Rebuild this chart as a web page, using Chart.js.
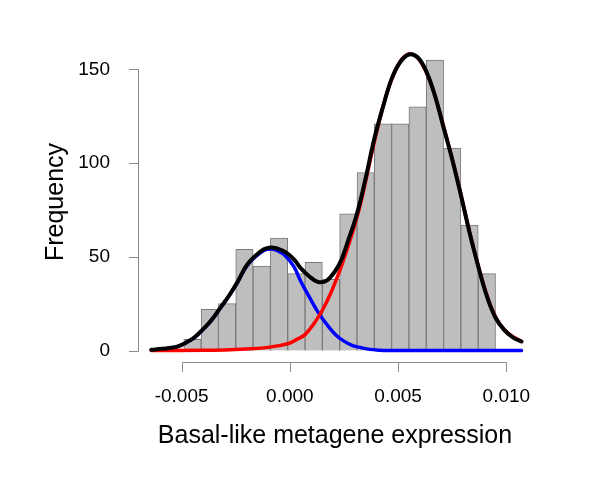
<!DOCTYPE html>
<html>
<head>
<meta charset="utf-8">
<script src="https://cdn.jsdelivr.net/npm/chart.js@4.4.0/dist/chart.umd.min.js"></script>
<style>
  html, body { margin: 0; padding: 0; background: #ffffff; }
  #wrap { width: 600px; height: 496px; }
</style>
</head>
<body>
<div id="wrap"><canvas id="chartHist" width="600" height="496"></canvas></div>
<script>
// histogram bins (centres) and counts
const binCenters = [-0.0045, -0.0037, -0.0029, -0.0021, -0.0013, -0.0005, 0.0003, 0.0011, 0.0019,
                    0.0027, 0.0035, 0.0043, 0.0051, 0.0059, 0.0067, 0.0075, 0.0083, 0.0091];
const counts = [6, 22, 25, 54, 45, 60, 41, 47, 38, 73, 95, 121, 121, 130, 155, 108, 67, 41];

// fitted mixture (black)
const mixX = [-0.0064, -0.0059, -0.0055, -0.0052, -0.0048, -0.0044, -0.0040, -0.0036, -0.0032, -0.0028,
              -0.0024, -0.0020, -0.0016, -0.0012, -0.0009, -0.0006, -0.0002, 0.0002, 0.0005, 0.0009,
              0.0013, 0.0017, 0.0021, 0.0024, 0.0027, 0.0031, 0.0035, 0.0039, 0.0043, 0.0047,
              0.0051, 0.0055, 0.0059, 0.0063, 0.0067, 0.0071, 0.0075, 0.0079, 0.0083, 0.0087,
              0.0091, 0.0095, 0.0099, 0.0103, 0.0107];
const mixY = [0.4, 0.9, 1.5, 2.1, 4.2, 7.1, 11.5, 16.5, 23, 29.5,
              37, 45.5, 50.5, 54, 55, 54.5, 52.5, 48.5, 44, 39.5,
              36.6, 37.3, 42.5, 49, 59, 73, 92, 113, 130, 145,
              154, 158, 156.5, 149, 136, 119, 102, 83, 63, 45,
              29, 17.5, 11, 7, 4.8];

// low component (blue)
const lowX = [-0.0064, -0.0059, -0.0055, -0.0052, -0.0048, -0.0044, -0.0040, -0.0036, -0.0032, -0.0028,
              -0.0024, -0.0020, -0.0016, -0.0012, -0.0009, -0.0006, -0.0002, 0.0002, 0.0005, 0.0009,
              0.0013, 0.0017, 0.0021, 0.0025, 0.0029, 0.0033, 0.0037, 0.0041, 0.0045, 0.0107];
const lowY = [0.3, 0.8, 1.4, 2.0, 4.1, 7.0, 11.4, 16.4, 22.8, 29.3,
              36.8, 45, 50, 53.4, 54.2, 53.4, 50.5, 44.5, 37, 28.5,
              20.5, 14, 8.6, 5, 2.6, 1.5, 0.6, 0.2, 0, 0];

// high component (red)
const highX = [-0.0064, -0.0040, -0.0030, -0.0020, -0.0012, -0.0005, 0.0000, 0.0003, 0.0007, 0.0011,
               0.0015, 0.0019, 0.0023, 0.0026, 0.0030, 0.0033, 0.0037, 0.0041, 0.0045, 0.0049,
               0.0053, 0.0057, 0.0061, 0.0065, 0.0069, 0.0073, 0.0077, 0.0081, 0.0085, 0.0089,
               0.0093, 0.0097, 0.0101, 0.0107];
const highY = [0, 0.1, 0.3, 0.8, 1.4, 2.6, 4, 5.8, 8.5, 14.2,
               21.5, 31, 42.5, 52.5, 67, 80, 101, 121, 138, 150,
               157, 158, 153, 143, 128, 111, 93, 73, 54, 37,
               23, 14, 9, 4.8];

const xTicks = [-0.005, 0.000, 0.005, 0.010];
const xTickLabels = ['-0.005', '0.000', '0.005', '0.010'];
const yTicks = [0, 50, 100, 150];

const xTitle = 'Basal-like metagene expression';
const yTitle = 'Frequency';

const pts = (xs, ys) => xs.map((x, i) => ({ x: x, y: ys[i] }));

const FONT = '"Liberation Sans", Arial, sans-serif';

// R style axes: lines only span first to last tick
const rAxes = {
    id: 'rAxes',
    afterDraw(chart) {
        const ctx = chart.ctx;
        const sx = chart.scales.x;
        const sy = chart.scales.y;
        ctx.save();
        ctx.strokeStyle = '#8a8a8a';
        ctx.lineWidth = 1;

        // y axis
        const ax = 138.5;
        ctx.beginPath();
        ctx.moveTo(ax, Math.round(sy.getPixelForValue(yTicks[0])) + 0.5);
        ctx.lineTo(ax, Math.round(sy.getPixelForValue(yTicks[yTicks.length - 1])) + 0.5);
        yTicks.forEach(t => {
            const py = Math.round(sy.getPixelForValue(t)) + 0.5;
            ctx.moveTo(ax, py);
            ctx.lineTo(129, py);
        });
        ctx.stroke();

        // x axis
        const ay = 362.5;
        ctx.beginPath();
        ctx.moveTo(Math.round(sx.getPixelForValue(xTicks[0])) + 0.5, ay);
        ctx.lineTo(Math.round(sx.getPixelForValue(xTicks[xTicks.length - 1])) + 0.5, ay);
        xTicks.forEach(t => {
            const px = Math.round(sx.getPixelForValue(t)) + 0.5;
            ctx.moveTo(px, ay);
            ctx.lineTo(px, 372);
        });
        ctx.stroke();

        // tick labels
        ctx.fillStyle = '#000000';
        ctx.font = '19px ' + FONT;
        ctx.textAlign = 'right';
        ctx.textBaseline = 'middle';
        yTicks.forEach(t => {
            ctx.fillText(String(t), 110, sy.getPixelForValue(t));
        });
        ctx.textAlign = 'center';
        ctx.textBaseline = 'alphabetic';
        xTicks.forEach((t, i) => {
            ctx.fillText(xTickLabels[i], sx.getPixelForValue(t), 402);
        });

        // titles
        ctx.font = '25px ' + FONT;
        ctx.fillText(xTitle, 335, 443);
        ctx.translate(63, 202);
        ctx.rotate(-Math.PI / 2);
        ctx.fillText(yTitle, 0, 0);
        ctx.restore();
    }
};

const curveStyle = {
    type: 'line',
    pointRadius: 0,
    tension: 0.4,
    fill: false,
    borderCapStyle: 'round',
    borderJoinStyle: 'round'
};

new Chart(document.getElementById('chartHist'), {
    type: 'bar',
    data: {
        datasets: [
            Object.assign({}, curveStyle, {
                data: pts(mixX, mixY),
                borderColor: '#000000',
                borderWidth: 4,
                order: 0
            }),
            Object.assign({}, curveStyle, {
                data: pts(highX, highY),
                borderColor: '#ff0000',
                borderWidth: 3.5,
                order: 1
            }),
            Object.assign({}, curveStyle, {
                data: pts(lowX, lowY),
                borderColor: '#0000ff',
                borderWidth: 3.5,
                order: 2
            }),
            {
                type: 'bar',
                data: pts(binCenters, counts),
                backgroundColor: '#bebebe',
                borderColor: '#7a7a7a',
                borderWidth: 1,
                barPercentage: 1.0,
                categoryPercentage: 1.0,
                order: 3
            }
        ]
    },
    options: {
        responsive: false,
        animation: false,
        layout: {
            padding: { left: 147, right: 72, top: 47, bottom: 138 }
        },
        plugins: {
            legend: { display: false },
            tooltip: { enabled: false }
        },
        scales: {
            x: {
                type: 'linear',
                min: -0.0066,
                max: 0.011,
                offset: false,
                display: false
            },
            y: {
                type: 'linear',
                min: -4,
                max: 162,
                display: false
            }
        }
    },
    plugins: [rAxes]
});
</script>
</body>
</html>
